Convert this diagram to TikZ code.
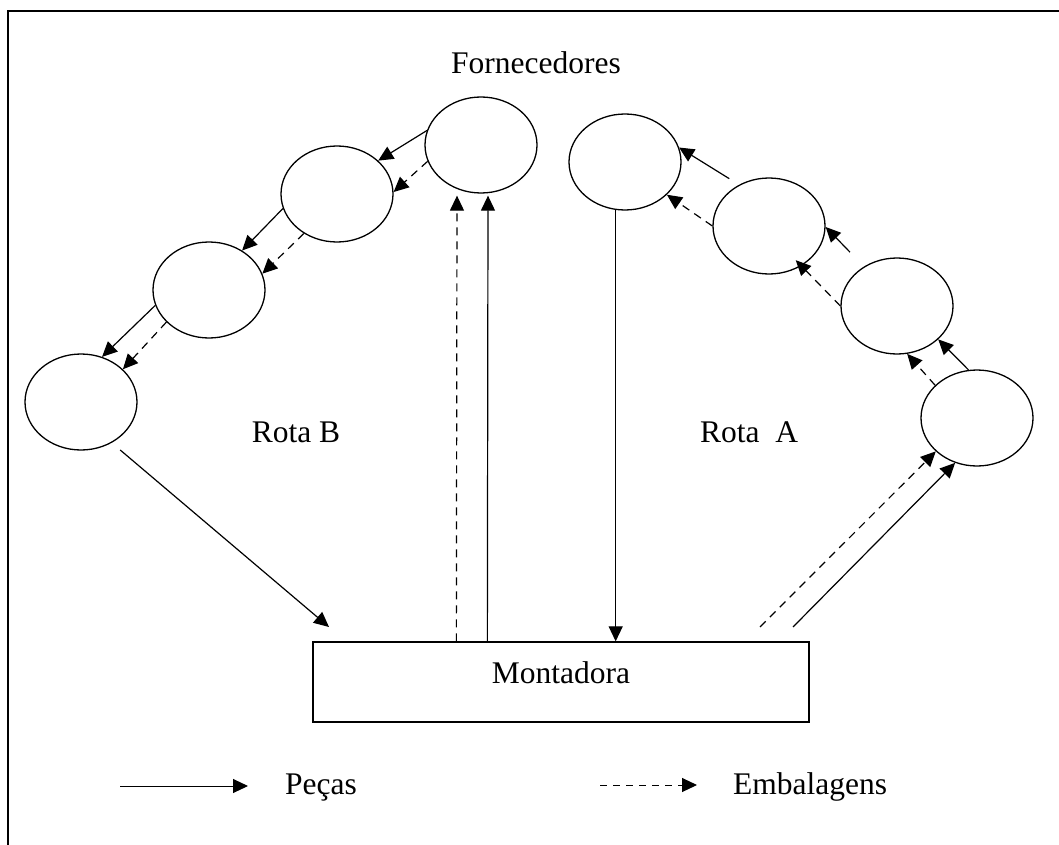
\documentclass[tikz,border=0pt]{standalone}
\usepackage{fontspec}
\setmainfont{Liberation Serif}
\usetikzlibrary{arrows.meta,shapes.geometric,calc}
\begin{document}
\begin{tikzpicture}[x=1pt,y=-1pt,
  sup/.style={draw,ellipse,line width=1.3pt,minimum width=112pt,minimum height=96pt,inner sep=0pt},
  flow/.style={line width=1.2pt,-{Triangle[length=15pt,width=14pt]}},
  dsh/.style={flow,dash pattern=on 8pt off 6pt},
  leg/.style={line width=1pt,-{Triangle[length=15pt,width=14pt]}},
  legd/.style={leg,dash pattern=on 7pt off 6pt},
  lbl/.style={font=\fontsize{31.5}{36}\selectfont,inner sep=0pt,anchor=base}]
\useasboundingbox (0,0) rectangle (1059,845);
\draw[line width=2pt] (8,845) -- (8,11) -- (1059,11);

% suppliers
\node[sup] (B1) at (481,145) {};
\node[sup] (B2) at (337,194) {};
\node[sup] (B3) at (209,290) {};
\node[sup] (B4) at (81,402) {};
\node[sup] (A1) at (625,162) {};
\node[sup] (A2) at (769,226) {};
\node[sup] (A3) at (897,306) {};
\node[sup] (A4) at (977,418) {};

% assembler
\node[draw,rectangle,line width=1.3pt,minimum width=496pt,minimum height=80pt,inner sep=0pt,
      font=\fontsize{31.5}{36}\selectfont,text height=20pt,text depth=18pt] (M) at (561,682) {Montadora};

% labels
\node[lbl] (F) at (536,74) {Fornecedores};
\node[lbl] (RB) at (296,442) {Rota B};
\node[lbl] (RA) at (749,442) {Rota\ \ A};

% free ends
\coordinate (mB) at (329,627);
\coordinate (mA1) at (760,627);
\coordinate (mA2) at (793,627);

% Rota B
\draw[flow] (B1.165) -- (B2.39);
\draw[dsh] (B1.197) -- (B2.2);
\draw[flow] (B2.195) -- (B3.50);
\draw[dsh] (B2.230) -- (B3.17);
\draw[flow] (B3.196) -- (B4.65);
\draw[dsh] (B3.217) -- (B4.38);
\draw[flow,shorten <=11pt] (B4.307) -- (mB);
\draw[dsh] ($(M.north west)+(144,0)$) -- ($(B1.south)+(-24,2)$);
\draw[flow] ($(M.north west)+(175,0)$) -- ($(B1.south)+(7,2)$);

% Rota A
\draw[flow] (A1.259) -- (A1.259 |- M.north);
\draw[dsh] (mA1) -- (A4.219);
\draw[flow] (mA2) -- (A4.244);
\draw[flow] (A4.100) -- (A3.321);
\draw[dsh] (A4.142) -- (A3.282);
\draw[flow,shorten <=20pt] (A3.130) -- (A2.359);
\draw[dsh,shorten >=-8pt] (A3.180) -- (A2.309);
\draw[flow,shorten <=11.5pt] (A2.126) -- (A1.15);
\draw[dsh] (A2.180) -- (A1.322);

% legend
\coordinate (l1) at (120,786);
\coordinate (l2) at (248,786);
\coordinate (l3) at (600,785);
\coordinate (l4) at (697,785);
\draw[leg] (l1) -- (l2);
\draw[legd] (l3) -- (l4);
\node[lbl,anchor=base west] (P) at (285,794) {Peças};
\node[lbl,anchor=base west] (E) at (733,794) {Embalagens};
\end{tikzpicture}
\end{document}
